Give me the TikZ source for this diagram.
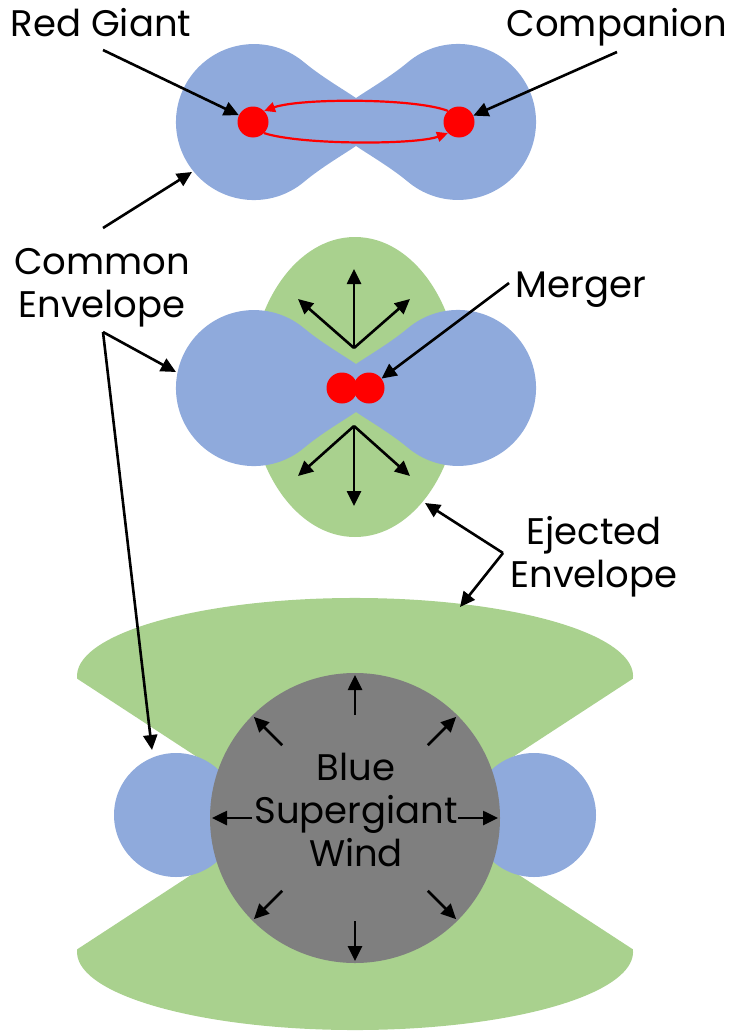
\documentclass[tikz,border=0pt]{standalone}
\usepackage{fontspec}
\setmainfont{Poppins}
\usetikzlibrary{arrows.meta}

\definecolor{envblue}{HTML}{8FAADC}
\definecolor{ejgreen}{HTML}{A9D18E}
\definecolor{windgray}{HTML}{7F7F7F}

\begin{document}
\begin{tikzpicture}[x=1pt,y=-1pt,
  ptr/.style={line width=2.6pt,-{Triangle[length=15pt,width=14pt]}},
  orbit/.style={red,line width=2.2pt,-{Triangle[length=11pt,width=10pt]}},
  reddot/.style={circle,fill=red,inner sep=0pt,minimum size=31pt},
  lobe/.style={circle,fill=envblue,inner sep=0pt,minimum size=124pt},
  lbl/.style={inner sep=0pt,align=center,font=\fontsize{37}{43}\selectfont}]
\useasboundingbox (0,0) rectangle (730,1033);
% objects at depth 100:
\path[fill=ejgreen] (355,387) ellipse[x radius=105,y radius=150];
\path[fill=ejgreen] (355,860) -- (77.2,678.7)
  arc[start angle=178,end angle=362,x radius=278,y radius=78] -- cycle;
\path[fill=ejgreen] (355,768) -- (77.2,949.3)
  arc[start angle=182,end angle=-2,x radius=278,y radius=78] -- cycle;
% objects at depth 75:
\foreach \cy in {122,388} {
  \path[fill=envblue,shift={(356,\cy)}] (0,-24)
    .. controls (15,-34) and (35,-45.7) .. (51.9,-59.8)
    arc[start angle=-130,end angle=130,radius=78]
    .. controls (35,45.7) and (15,34) .. (0,24)
    .. controls (-15,34) and (-35,45.7) .. (-51.9,59.8)
    arc[start angle=50,end angle=310,radius=78]
    .. controls (-35,-45.7) and (-15,-34) .. (0,-24) -- cycle;
}
\node[lobe] (lobeL) at (176,815) {};
\node[lobe] (lobeR) at (534,815) {};
\node[circle,fill=windgray,inner sep=0pt,minimum size=290pt] (wind) at (355,818) {};
% objects at depth 50:
\node[reddot] (giant) at (253,122) {};
\node[reddot] (comp) at (459,122) {};
\node[reddot] (coreA) at (342,388) {};
\node[reddot] (coreB) at (369,388) {};
\draw[orbit] (comp.north west) .. controls (415,98) and (300,98) .. (giant.north east);
\draw[orbit] (giant.south east) .. controls (300,145) and (415,145) .. (comp.south west);
\coordinate (burstN) at (354,348);
\coordinate (burstS) at (354,426);
\foreach \dx/\dy in {0/-79,-56/-49,56/-49}
  \draw[ptr] (burstN) -- ++(\dx,\dy);
\foreach \dx/\dy in {0/80,-56/50,56/50}
  \draw[ptr] (burstS) -- ++(\dx,\dy);
\foreach \a in {0,45,...,315}
  \draw[ptr] ([shift={(\a:103)}]wind.center) -- ([shift={(\a:143)}]wind.center);
% labels:
\node[lbl,anchor=base] (rg) at (101,37) {Red Giant};
\node[lbl,anchor=base] (cp) at (617,37) {Companion};
\node[lbl,anchor=north] (ce) at (102,248) {Common\\Envelope};
\node[lbl,anchor=base] (mg) at (581,297) {Merger};
\node[lbl,anchor=north] (ee) at (594,516) {Ejected\\Envelope};
\node[lbl,anchor=north] (bsw) at (356,753) {Blue\\Supergiant\\Wind};
% pointers:
\coordinate (rgTail) at (103,50);
\coordinate (cpTail) at (617,52);
\coordinate (ceUp) at (103,228);
\coordinate (ceDown) at (103,332);
\coordinate (ceTip1) at (192,172);
\coordinate (ceTip2) at (176,372);
\coordinate (ceTip3) at (152,750);
\coordinate (mgTail) at (509,283);
\coordinate (eeFork) at (503,553);
\coordinate (eeTip1) at (425,503);
\coordinate (eeTip2) at (460,607);
\draw[ptr] (rgTail) -- (giant);
\draw[ptr] (cpTail) -- (comp);
\draw[ptr] (mgTail) -- (coreB);
\draw[ptr] (ceUp) -- (ceTip1);
\draw[ptr] (ceDown) -- (ceTip2);
\draw[ptr] (ceDown) -- (ceTip3);
\draw[ptr] (eeFork) -- (eeTip1);
\draw[ptr] (eeFork) -- (eeTip2);
\end{tikzpicture}
\end{document}
